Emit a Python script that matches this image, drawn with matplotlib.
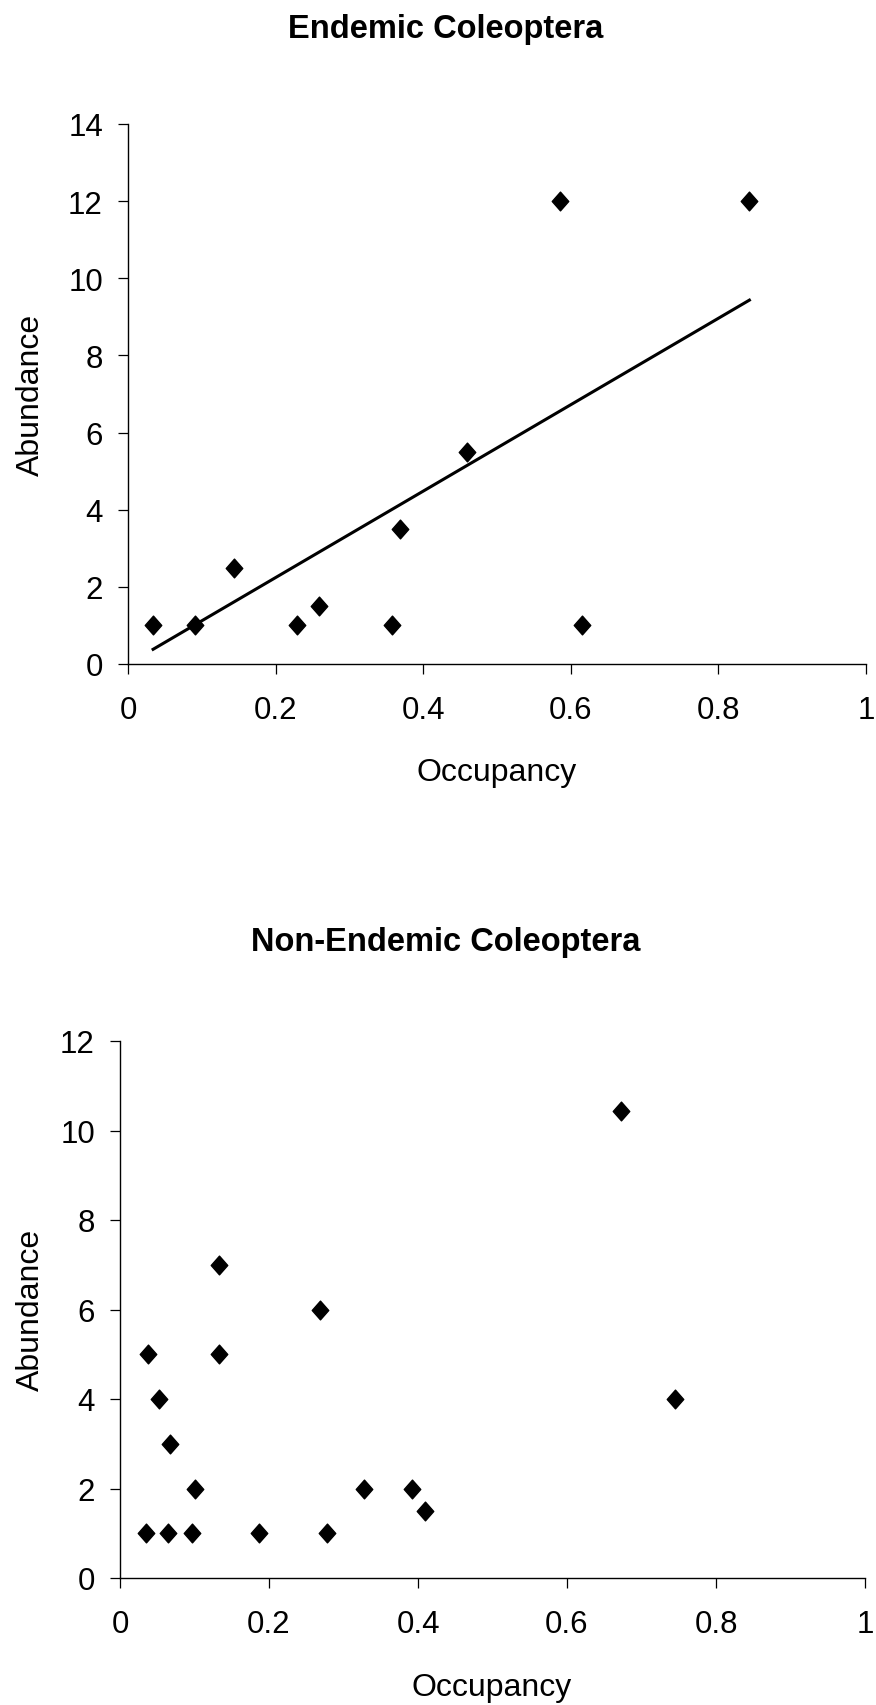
import numpy as np
import matplotlib.pyplot as plt
from matplotlib.path import Path

plt.rcParams['font.family'] = ['Liberation Sans', 'DejaVu Sans']

# Endemic Coleoptera
end_occ = [0.034, 0.091, 0.144, 0.229, 0.259, 0.358, 0.368, 0.460, 0.615, 0.586, 0.842]
end_abund = [1.0, 1.0, 2.5, 1.0, 1.5, 1.0, 3.5, 5.5, 1.0, 12.0, 12.0]

# Non-Endemic Coleoptera
non_occ = [0.037, 0.133, 0.052, 0.067, 0.100, 0.035, 0.065, 0.097, 0.186,
           0.278, 0.327, 0.392, 0.409, 0.745, 0.269, 0.133, 0.673]
non_abund = [5, 5, 4, 3, 2, 1, 1, 1, 1, 1, 2, 2, 1.5, 4, 6, 7, 10.43]

x_ticks = [0, 0.2, 0.4, 0.6, 0.8, 1]
x_labels = ['0', '0.2', '0.4', '0.6', '0.8', '1']
end_yticks = [0, 2, 4, 6, 8, 10, 12, 14]
non_yticks = [0, 2, 4, 6, 8, 10, 12]

W, H = 876, 1706
fig = plt.figure(figsize=(W / 100, H / 100), dpi=100)

# slightly tall diamond like the original scatter marker
diamond = Path([(0, 1), (0.88, 0), (0, -1), (-0.88, 0), (0, 1)], closed=True)


def make_axes(left, top, right, bottom):
    return fig.add_axes([left / W, 1 - bottom / H, (right - left) / W, (bottom - top) / H])


def style(ax, yticks):
    for s in ['top', 'right']:
        ax.spines[s].set_visible(False)
    for s in ['left', 'bottom']:
        ax.spines[s].set_linewidth(1.0)
    ax.set_xlim(0, 1)
    ax.set_ylim(0, yticks[-1])
    ax.set_xticks(x_ticks)
    ax.set_xticklabels(x_labels)
    ax.set_yticks(yticks)
    ax.tick_params(direction='out', length=7, width=0.9, labelsize=22.5)
    ax.tick_params(axis='x', pad=15)
    ax.tick_params(axis='y', pad=11)


# top panel
ax1 = make_axes(128, 125, 866, 665)
style(ax1, end_yticks)
ax1.plot(end_occ, end_abund, linestyle='none', marker=diamond, markersize=13.5,
         color='black', clip_on=False)
x = np.array(end_occ)
y = np.array(end_abund)
slope = (x * y).sum() / (x * x).sum()   # fit through origin
xs = np.array([x.min(), x.max()])
ax1.plot(xs, slope * xs, color='black', lw=2.2)

# bottom panel
ax2 = make_axes(120, 1042, 865, 1579)
style(ax2, non_yticks)
ax2.plot(non_occ, non_abund, linestyle='none', marker=diamond, markersize=13.5,
         color='black', clip_on=False)

# titles and axis labels
fig.text(446 / W, 1 - 38 / H, 'Endemic Coleoptera', ha='center', va='baseline',
         fontsize=23.5, fontweight='bold')
fig.text(446 / W, 1 - 951 / H, 'Non-Endemic Coleoptera', ha='center', va='baseline',
         fontsize=23.5, fontweight='bold')
fig.text(497 / W, 1 - 781 / H, 'Occupancy', ha='center', va='baseline', fontsize=23)
fig.text(492 / W, 1 - 1696 / H, 'Occupancy', ha='center', va='baseline', fontsize=23)
fig.text(31 / W, 1 - 395 / H, 'Abundance', ha='center', va='center', rotation=90, fontsize=23)
fig.text(31 / W, 1 - 1310 / H, 'Abundance', ha='center', va='center', rotation=90, fontsize=23)

plt.savefig('out.png', dpi=100)
